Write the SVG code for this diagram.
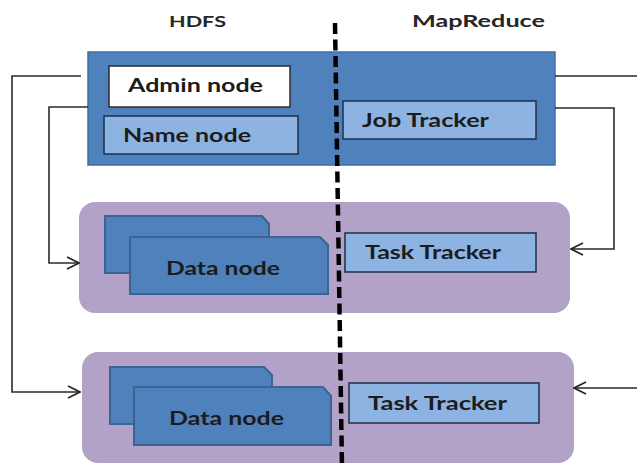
<svg xmlns="http://www.w3.org/2000/svg" width="637" height="468" viewBox="0 0 637 468">
  <defs>
    <marker id="open-arrow" viewBox="0 0 14 14" refX="13" refY="7" markerWidth="14" markerHeight="14" markerUnits="userSpaceOnUse" orient="auto">
      <path d="M1,1 L13,7 L1,13" fill="none" stroke="#222" stroke-width="1.6"/>
    </marker>
  </defs>
  <style>
    .lbl { font-family: Lato, "Open Sans", "Liberation Sans", sans-serif; font-weight: bold; fill: #1c1c1c; }
    .head { font-family: Lato, "Open Sans", "Liberation Sans", sans-serif; font-weight: bold; fill: #262626; }
    .master { fill: #4F81BD; stroke: #3E6FA6; stroke-width: 1.5; }
    .box-white { fill: #FFFFFF; stroke: #2b2b2b; stroke-width: 1.5; }
    .box-light { fill: #8DB3E2; stroke: #1f2f44; stroke-width: 1.5; }
    .slave { fill: #B3A2C7; }
    .disk { fill: #4F81BD; stroke: #3A6494; stroke-width: 2; }
    .wire { fill: none; stroke: #2a2a2a; stroke-width: 1.6; }
    .divider { fill: none; stroke: #000; stroke-width: 4.5; stroke-dasharray: 11 5.5; }
  </style>

  <rect width="637" height="468" fill="#ffffff"/>

  <!-- column headings -->
  <text class="head" x="169" y="27" font-size="15" textLength="57" lengthAdjust="spacingAndGlyphs">HDFS</text>
  <text class="head" x="412" y="27" font-size="17" textLength="133" lengthAdjust="spacingAndGlyphs">MapReduce</text>

  <!-- master machine -->
  <g id="master">
    <rect class="master" x="88" y="52" width="467" height="113"/>
  </g>
  <g id="admin-node">
    <rect class="box-white" x="109" y="66" width="181" height="41"/>
    <text class="lbl" x="128" y="92" font-size="18" textLength="135" lengthAdjust="spacingAndGlyphs">Admin node</text>
  </g>
  <g id="name-node">
    <rect class="box-light" x="104" y="116" width="194" height="38"/>
    <text class="lbl" x="123" y="142" font-size="18" textLength="128" lengthAdjust="spacingAndGlyphs">Name node</text>
  </g>
  <g id="job-tracker">
    <rect class="box-light" x="343" y="101" width="193" height="38"/>
    <text class="lbl" x="362" y="127" font-size="18" textLength="127" lengthAdjust="spacingAndGlyphs">Job Tracker</text>
  </g>

  <!-- slave machine 1 -->
  <g id="slave-1">
    <rect class="slave" x="79" y="202" width="491" height="111" rx="16"/>
  </g>
  <g id="data-node-1">
    <path class="disk" d="M105,216 H262 L269,224 V273 H105 Z"/>
    <path class="disk" d="M130,237 H320 L328,245 V294 H130 Z"/>
    <text class="lbl" x="166" y="275" font-size="18" textLength="114" lengthAdjust="spacingAndGlyphs">Data node</text>
  </g>
  <g id="task-tracker-1">
    <rect class="box-light" x="345" y="233" width="191" height="39"/>
    <text class="lbl" x="365" y="259" font-size="18" textLength="136" lengthAdjust="spacingAndGlyphs">Task Tracker</text>
  </g>

  <!-- slave machine 2 -->
  <g id="slave-2">
    <rect class="slave" x="82" y="352" width="492" height="111" rx="16"/>
  </g>
  <g id="data-node-2">
    <path class="disk" d="M110,367 H264 L272,375 V424 H110 Z"/>
    <path class="disk" d="M134,387 H323 L331,396 V445 H134 Z"/>
    <text class="lbl" x="169" y="425" font-size="18" textLength="115" lengthAdjust="spacingAndGlyphs">Data node</text>
  </g>
  <g id="task-tracker-2">
    <rect class="box-light" x="349" y="383" width="190" height="40"/>
    <text class="lbl" x="368" y="410" font-size="18" textLength="139" lengthAdjust="spacingAndGlyphs">Task Tracker</text>
  </g>

  <!-- HDFS / MapReduce boundary -->
  <line class="divider" x1="335" y1="23" x2="342" y2="468"/>

  <!-- connectors -->
  <g id="connectors">
    <polyline class="wire" points="81,76 12,76 12,392 80,392" marker-end="url(#open-arrow)"/>
    <polyline class="wire" points="88,107 49,107 49,263 79,263" marker-end="url(#open-arrow)"/>
    <polyline class="wire" points="555,76 637,76"/>
    <polyline class="wire" points="555,108 614,108 614,249 571,249" marker-end="url(#open-arrow)"/>
    <polyline class="wire" points="637,388 574,388" marker-end="url(#open-arrow)"/>
  </g>
</svg>
